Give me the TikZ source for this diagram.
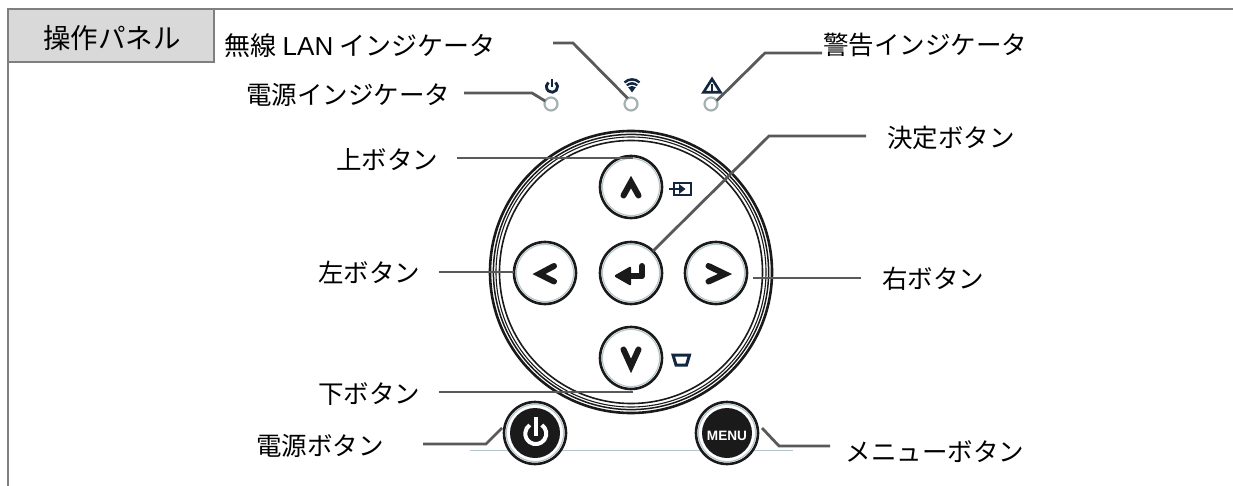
\documentclass[tikz,border=0pt]{standalone}
\usepackage{fontspec}
\setmainfont{Liberation Sans}
\newfontfamily\cjk{Noto Sans CJK JP}
\definecolor{lead}{HTML}{595959}
\definecolor{frame}{HTML}{7F7F7F}
\definecolor{titlefill}{HTML}{D9D9D9}
\definecolor{navy}{HTML}{12263F}
\definecolor{pale}{HTML}{B4C6C9}
\definecolor{ink}{HTML}{1A1A1A}
\tikzset{
  lbl/.style={inner sep=0pt,outer sep=0pt,text=black,text height=21pt,text depth=4pt,font=\cjk\fontsize{25.5pt}{30pt}\selectfont},
  leadline/.style={draw=lead,line width=2.8pt},
  btn/.style={circle,draw=ink,line width=2.6pt,fill=white,minimum size=62pt,inner sep=0pt,outer sep=0pt},
  led/.style={circle,draw=pale!70!gray,line width=2.2pt,fill=white,minimum size=13pt,inner sep=0pt,outer sep=0pt},
  ringline/.style={draw=pale,line width=1.1pt},
  chev/.style={draw=ink,line width=6pt,line cap=round,line join=miter},
  navyicon/.style={draw=navy,line width=2.8pt},
}
\begin{document}
\begin{tikzpicture}[x=1pt,y=-1pt]
\useasboundingbox (0,0) rectangle (1233,486);
% frame
\draw[frame,line width=2.6pt] (8,486) -- (8,9) -- (1233,9);
\node[draw=frame,line width=2.8pt,fill=titlefill,minimum width=206pt,minimum height=53pt,inner sep=0pt,outer sep=0pt] (title) at (111,35.5) {};
\node[lbl,font=\cjk\fontsize{27.5pt}{30pt}\selectfont] (titletext) at (112,40) {操作パネル};
% labels
\node[lbl,font=\cjk\fontsize{26pt}{30pt}\selectfont] (lwifi) at (360,47) {無線 {\normalfont LAN} インジケータ};
\node[lbl] (lpwrled) at (348,96) {電源インジケータ};
\node[lbl] (lup) at (387,161) {上ボタン};
\node[lbl] (lleft) at (369,274) {左ボタン};
\node[lbl] (ldown) at (369,395) {下ボタン};
\node[lbl] (lpower) at (320,447) {電源ボタン};
\node[lbl] (lwarn) at (925,46) {警告インジケータ};
\node[lbl] (lenter) at (951,139) {決定ボタン};
\node[lbl] (lright) at (933,280) {右ボタン};
\node[lbl] (lmenu) at (935,453) {メニューボタン};
% rings
\coordinate (hub) at (631,272);
\draw[ink,line width=2.6pt] (hub) circle (141);
\draw[ink,line width=1.5pt] (hub) circle (137.6);
\draw[ink,line width=1.1pt] (hub) circle (135);
\draw[ink,line width=1.6pt] (hub) circle (131.5);
% base line
\draw[pale,line width=.8pt] (470,450) -- (793,450);
% buttons
\node[btn] (bup) at (631,187) {};
\node[btn] (benter) at (631,273) {};
\node[btn] (bleft) at (545,273) {};
\node[btn] (bright) at (716,273) {};
\node[btn] (bdown) at (631,358) {};
\node[btn] (bpower) at (535,433) {};
\node[btn] (bmenu) at (727,433) {};
\foreach \b in {bup,benter,bleft,bright,bdown,bpower,bmenu}{
  \draw[ringline] (\b) circle (28.6);
}
\fill[ink] (bpower) circle (25);
\fill[ink] (bmenu) circle (25);
% chevrons
\draw[chev] ([shift={(-7.5,8.5)}]bup.center) -- ([shift={(0,-5)}]bup.center) -- ([shift={(7.5,8.5)}]bup.center);
\draw[chev] ([shift={(-7.5,-8.5)}]bdown.center) -- ([shift={(0,8)}]bdown.center) -- ([shift={(7.5,-8.5)}]bdown.center);
\draw[chev] ([shift={(9,-7)}]bleft.center) -- ([shift={(-6,1)}]bleft.center) -- ([shift={(9,8.5)}]bleft.center);
\draw[chev] ([shift={(-7.5,-7)}]bright.center) -- ([shift={(9,1)}]bright.center) -- ([shift={(-7.5,8.5)}]bright.center);
% enter glyph
\draw[ink,line width=6pt,line cap=round,line join=round] (627,276) -- (642,276) -- (642,266);
\fill[ink,draw=ink,line width=2.4pt,line join=round] (616,276) -- (630,268) -- (630,284) -- cycle;
% power glyph
\draw[white,line width=4pt] (541.8,425) arc[start angle=-55,end angle=235,radius=10.5];
\draw[white,line width=4pt] (535.8,417) -- (535.8,436);
% menu text
\node[inner sep=0pt,text=white,font=\bfseries\fontsize{13.6pt}{14pt}\selectfont,text height=10pt,text depth=0pt] (menutext) at (727,435.5) {MENU};
% LEDs
\node[led] (lp) at (551,104) {};
\node[led] (lw) at (631,104) {};
\node[led] (la) at (711,104) {};
% LED icons
\draw[navy,line width=2.8pt] (552,79) -- (552,87);
\draw[navy,line width=2.8pt] (555.6,82.4) arc[start angle=-50,end angle=230,radius=5.6];
% wifi
\fill[navy] (623.8,81.5) .. controls (628,77) and (636,77) .. (640.2,81.5) -- (638.8,83.4) .. controls (635,79.8) and (629,79.8) .. (625.2,83.4) -- cycle;
\fill[navy] (626.2,84.6) .. controls (629.5,81.3) and (634.5,81.3) .. (637.8,84.6) -- (636.6,86.2) .. controls (634,84.2) and (630,84.2) .. (627.4,86.2) -- cycle;
\fill[navy] (628.2,87.2) .. controls (630.5,85.6) and (633.5,85.6) .. (635.8,87.2) -- (632,92.5) -- cycle;
% warning
\draw[navy,line width=2.6pt,line join=miter] (712,79) -- (720.5,92.3) -- (703.5,92.3) -- cycle;
\draw[navy,line width=2pt] (712,84) -- (712,91);
% input icon
\draw[navyicon] (674,183) rectangle (691,195);
\draw[navy,line width=2.6pt] (669,189) -- (680,189);
\fill[navy] (685.5,189) -- (679,184) -- (679,194) -- cycle;
% trapezoid icon
\draw[navy,line width=3pt,line join=miter] (673,355) -- (689.5,355) -- (686.5,365) -- (676,365) -- cycle;
% leaders
\coordinate (endwifi) at (553,43);
\coordinate (endpwr) at (464,93);
\coordinate (endwarn) at (822,53);
\coordinate (endenter) at (866,136);
\coordinate (endup) at (457,158);
\coordinate (endupb) at (633,158);
\coordinate (endleft) at (439,272);
\coordinate (endright) at (861,278);
\coordinate (endrightb) at (753,278);
\coordinate (enddown) at (439,392);
\coordinate (enddownb) at (633,392);
\coordinate (endpower) at (423,444);
\coordinate (endpowerb) at (502,428);
\coordinate (endmenu) at (830,446);
\coordinate (endmenub) at (762,428);
\draw[leadline] (endwifi) -- (573,43) -- (lw.120);
\draw[leadline] (endpwr) -- (532,93) -- (lp.153);
\draw[leadline] (endwarn) -- (765,53) -- (la.30);
\draw[leadline] (endenter) -- (769,136) -- (benter.45);
\draw[leadline] (endup) -- (endupb);
\draw[leadline] (endleft) -- (bleft.west |- endleft);
\draw[leadline] (endright) -- (endrightb);
\draw[leadline] (enddown) -- (enddownb);
\draw[leadline] (endpower) -- (486,444) -- (endpowerb);
\draw[leadline] (endmenu) -- (779,446) -- (endmenub);
\end{tikzpicture}
\end{document}
